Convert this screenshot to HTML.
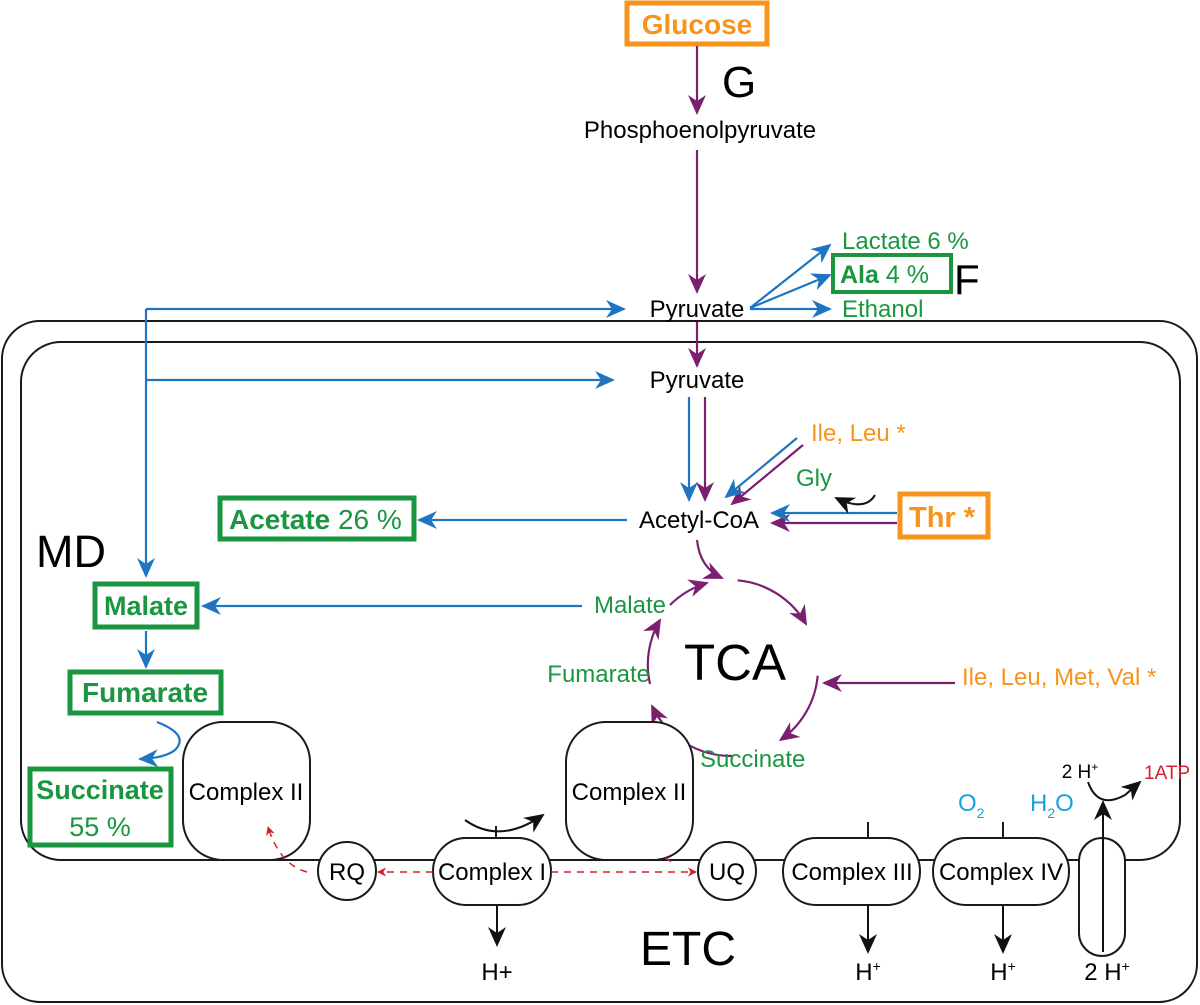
<!DOCTYPE html>
<html><head><meta charset="utf-8"><style>
body{margin:0;background:#fff}
svg{display:block}
text{font-family:"Liberation Sans",Arial,sans-serif}
</style></head><body>
<svg width="1200" height="1005" viewBox="0 0 1200 1005" xmlns="http://www.w3.org/2000/svg">
<defs>
<marker id="mb" viewBox="0 0 10 10" refX="9" refY="5" markerWidth="20" markerHeight="20" orient="auto" markerUnits="userSpaceOnUse"><path d="M0,0.5 L10,5 L0,9.5 L3,5z" fill="#1f75c2"/></marker>
<marker id="mpp" viewBox="0 0 10 10" refX="9" refY="5" markerWidth="20" markerHeight="20" orient="auto" markerUnits="userSpaceOnUse"><path d="M0,0.5 L10,5 L0,9.5 L3,5z" fill="#7c1f6e"/></marker>
<marker id="mk" viewBox="0 0 10 10" refX="9" refY="5" markerWidth="20" markerHeight="20" orient="auto" markerUnits="userSpaceOnUse"><path d="M0,0.5 L10,5 L0,9.5 L3,5z" fill="#111"/></marker>
<marker id="mr" viewBox="0 0 10 10" refX="9" refY="5" markerWidth="9" markerHeight="9" orient="auto" markerUnits="userSpaceOnUse"><path d="M0,0 L10,5 L0,10 L3,5z" fill="#d6202f"/></marker>
</defs>
<g fill="none" stroke="#1a1a1a" stroke-width="2">
<rect x="2" y="321" width="1195" height="681" rx="38"/>
<rect x="21" y="342" width="1159" height="518" rx="40"/>
</g>
<rect x="627" y="3" width="140" height="41" fill="none" stroke="#f7941d" stroke-width="5"/>
<text x="697" y="34" text-anchor="middle" font-size="28" font-weight="bold" fill="#f7941d">Glucose</text>
<text x="722" y="97" font-size="44">G</text>
<text x="700" y="138" text-anchor="middle" font-size="24">Phosphoenolpyruvate</text>
<g stroke="#7c1f6e" stroke-width="2.2" fill="none">
<line x1="697" y1="46" x2="697" y2="113" marker-end="url(#mpp)"/>
<line x1="697" y1="150" x2="697" y2="292" marker-end="url(#mpp)"/>
<line x1="697" y1="322" x2="697" y2="366" marker-end="url(#mpp)"/>
<line x1="705" y1="397" x2="705" y2="500" marker-end="url(#mpp)"/>
<line x1="803" y1="445" x2="732" y2="504" marker-end="url(#mpp)"/>
<line x1="897" y1="523" x2="772" y2="523" marker-end="url(#mpp)"/>
<line x1="955" y1="683" x2="824" y2="683" marker-end="url(#mpp)"/>
<path d="M697,540 Q700,568 722,578" marker-end="url(#mpp)"/>
<path d="M737.7,580.3 A88,88 0 0 1 806,624" marker-end="url(#mpp)"/>
<path d="M817.7,675.7 A88,88 0 0 1 780.5,740" marker-end="url(#mpp)"/>
<path d="M732,756 A88,88 0 0 1 652,706" marker-end="url(#mpp)"/>
<path d="M650,684 A88,88 0 0 1 660,620" marker-end="url(#mpp)"/>
<path d="M670,605 A88,88 0 0 1 707,583" marker-end="url(#mpp)"/>
</g>
<text x="697" y="317" text-anchor="middle" font-size="24">Pyruvate</text>
<text x="697" y="388" text-anchor="middle" font-size="24">Pyruvate</text>
<text x="842" y="249" font-size="24" fill="#1a9641">Lactate 6 %</text>
<rect x="833" y="255" width="118" height="37" fill="none" stroke="#1a9641" stroke-width="4"/>
<text x="840" y="283" font-size="25" fill="#1a9641"><tspan font-weight="bold">Ala</tspan> 4 %</text>
<text x="954" y="294" font-size="42">F</text>
<text x="842" y="317" font-size="24" fill="#1a9641">Ethanol</text>
<g stroke="#1f75c2" stroke-width="2.2" fill="none">
<line x1="750" y1="308" x2="830" y2="245" marker-end="url(#mb)"/>
<line x1="750" y1="308" x2="830" y2="275" marker-end="url(#mb)"/>
<line x1="750" y1="309" x2="830" y2="309" marker-end="url(#mb)"/>
<line x1="146" y1="309" x2="624" y2="309" marker-end="url(#mb)"/>
<line x1="146" y1="309" x2="146" y2="576" marker-end="url(#mb)"/>
<line x1="146" y1="380" x2="613" y2="380" marker-end="url(#mb)"/>
<line x1="689" y1="397" x2="689" y2="500" marker-end="url(#mb)"/>
<line x1="797" y1="438" x2="726" y2="497" marker-end="url(#mb)"/>
<line x1="897" y1="513" x2="772" y2="513" marker-end="url(#mb)"/>
<line x1="627" y1="520" x2="419" y2="520" marker-end="url(#mb)"/>
<line x1="582" y1="606" x2="203" y2="606" marker-end="url(#mb)"/>
<line x1="146" y1="631" x2="146" y2="667" marker-end="url(#mb)"/>
<path d="M157,722 Q190,735 175,750 Q165,758 140,759" marker-end="url(#mb)"/>
</g>
<text x="811" y="441" font-size="24" fill="#f7941d">Ile, Leu *</text>
<text x="796" y="486" font-size="24" fill="#1a9641">Gly</text>
<path d="M875,495 Q865,512 836,498" fill="none" stroke="#111" stroke-width="2" marker-end="url(#mk)"/>
<rect x="900" y="494" width="88" height="43" fill="none" stroke="#f7941d" stroke-width="5"/>
<text x="909" y="527" font-size="29" font-weight="bold" fill="#f7941d">Thr *</text>
<text x="699" y="528" text-anchor="middle" font-size="24">Acetyl-CoA</text>
<rect x="220" y="498" width="194" height="41" fill="none" stroke="#1a9641" stroke-width="5"/>
<text x="229" y="529" font-size="28" fill="#1a9641"><tspan font-weight="bold">Acetate</tspan> 26 %</text>
<text x="36" y="567" font-size="45">MD</text>
<rect x="95" y="584" width="102" height="43" fill="none" stroke="#1a9641" stroke-width="5"/>
<text x="146" y="615" text-anchor="middle" font-size="27" font-weight="bold" fill="#1a9641">Malate</text>
<rect x="70" y="672" width="151" height="41" fill="none" stroke="#1a9641" stroke-width="5"/>
<text x="145" y="702" text-anchor="middle" font-size="28" font-weight="bold" fill="#1a9641">Fumarate</text>
<rect x="30" y="769" width="141" height="76" fill="none" stroke="#1a9641" stroke-width="5"/>
<text x="100" y="799" text-anchor="middle" font-size="27" font-weight="bold" fill="#1a9641">Succinate</text>
<text x="100" y="836" text-anchor="middle" font-size="27" fill="#1a9641">55 %</text>
<text x="666" y="613" text-anchor="end" font-size="24" fill="#1a9641">Malate</text>
<text x="650" y="682" text-anchor="end" font-size="24" fill="#1a9641">Fumarate</text>
<text x="700" y="767" font-size="24" fill="#1a9641">Succinate</text>
<text x="735" y="680" text-anchor="middle" font-size="51">TCA</text>
<text x="962" y="685" font-size="24" fill="#f7941d">Ile, Leu, Met, Val *</text>
<g stroke="#1a1a1a" stroke-width="2" fill="#fff">
<rect x="183" y="722" width="127" height="138" rx="40"/>
<rect x="566" y="722" width="127" height="138" rx="40"/>
<circle cx="347" cy="871" r="29"/>
<rect x="433" y="838" width="118" height="67" rx="33"/>
<circle cx="727" cy="871" r="29"/>
<rect x="783" y="838" width="137" height="67" rx="33"/>
<rect x="933" y="838" width="136" height="67" rx="33"/>
<rect x="1079" y="838" width="46" height="118" rx="23"/>
<line x1="868" y1="822" x2="868" y2="838"/>
<line x1="1003" y1="822" x2="1003" y2="838"/>
<line x1="496" y1="826" x2="496" y2="838"/>
</g>
<g font-size="24" text-anchor="middle">
<text x="246" y="800">Complex II</text>
<text x="629" y="800">Complex II</text>
<text x="347" y="880">RQ</text>
<text x="492" y="880">Complex I</text>
<text x="727" y="880">UQ</text>
<text x="852" y="880">Complex III</text>
<text x="1001" y="880">Complex IV</text>
<text x="497" y="980">H+</text>
<text x="868" y="980">H<tspan font-size="14" dy="-9">+</tspan></text>
<text x="1003" y="980">H<tspan font-size="14" dy="-9">+</tspan></text>
<text x="1107" y="980">2 H<tspan font-size="14" dy="-9">+</tspan></text>
<text x="1080" y="778" font-size="19">2 H<tspan font-size="12" dy="-7">+</tspan></text>
</g>
<text x="1144" y="779" font-size="19" fill="#d6202f">1ATP</text>
<text x="958" y="811" font-size="24" fill="#1ba1e2">O<tspan font-size="14" dy="7">2</tspan></text>
<text x="1030" y="811" font-size="24" fill="#1ba1e2">H<tspan font-size="14" dy="7">2</tspan><tspan dy="-7">O</tspan></text>
<text x="640" y="965" font-size="48">ETC</text>
<g stroke="#111" stroke-width="2" fill="none">
<line x1="497" y1="905" x2="497" y2="945" marker-end="url(#mk)"/>
<line x1="868" y1="905" x2="868" y2="952" marker-end="url(#mk)"/>
<line x1="1003" y1="905" x2="1003" y2="952" marker-end="url(#mk)"/>
<line x1="1103" y1="952" x2="1103" y2="802" marker-end="url(#mk)"/>
<path d="M465,820 Q500,845 543,815" marker-end="url(#mk)"/>
<path d="M1088,782 Q1098,810 1125,795 L1140,782" marker-end="url(#mk)"/>
</g>
<g stroke="#d6202f" stroke-width="1.5" fill="none" stroke-dasharray="7,6">
<line x1="433" y1="872" x2="378" y2="872" marker-end="url(#mr)"/>
<line x1="551" y1="872" x2="696" y2="872" marker-end="url(#mr)"/>
<path d="M307,872 Q280,865 268,827" marker-end="url(#mr)"/>
<line x1="665" y1="858" x2="675" y2="864"/>
</g>
</svg>
</body></html>
